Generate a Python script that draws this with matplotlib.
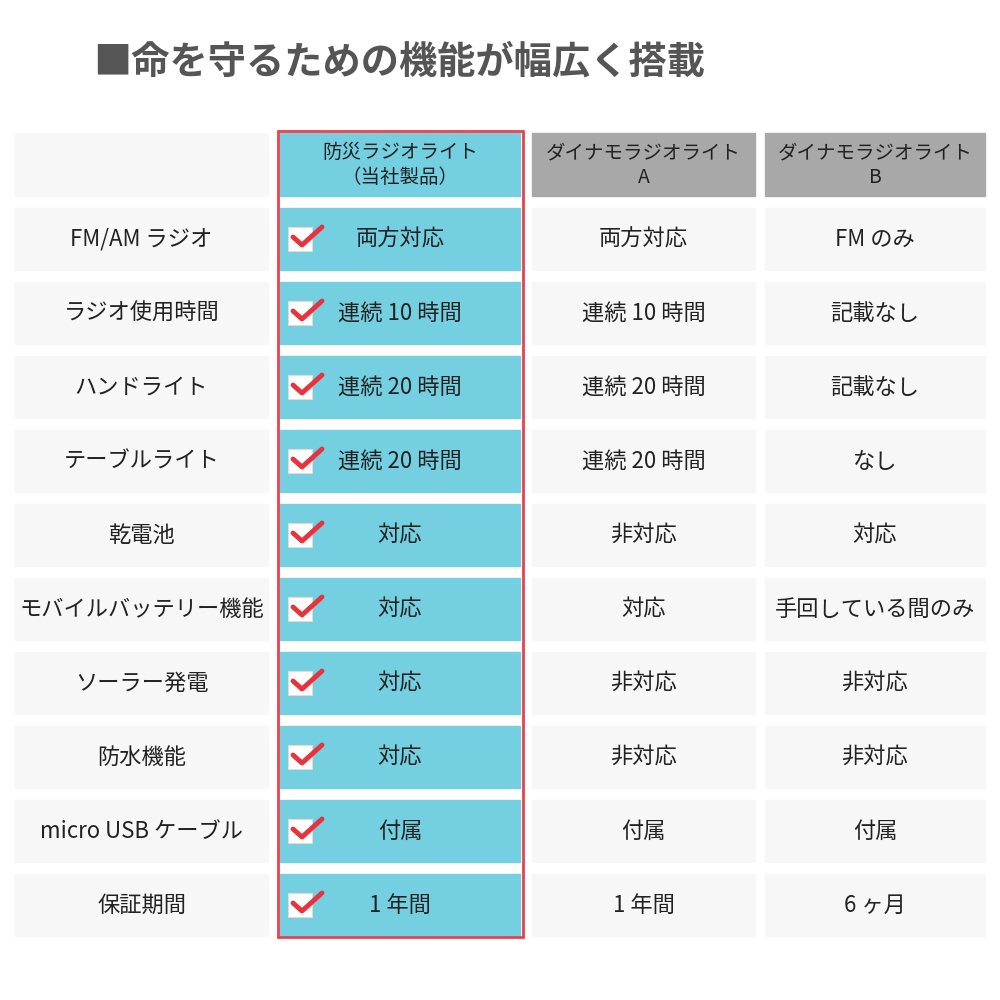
import matplotlib.pyplot as plt
from matplotlib.patches import Rectangle

plt.rcParams['font.family'] = ['Noto Sans CJK JP', 'DejaVu Sans']

title = "■命を守るための機能が幅広く搭載"
headers = ["防災ラジオライト\n（当社製品）", "ダイナモラジオライト\nA", "ダイナモラジオライト\nB"]
features = ["FM/AM ラジオ", "ラジオ使用時間", "ハンドライト", "テーブルライト", "乾電池",
            "モバイルバッテリー機能", "ソーラー発電", "防水機能", "micro USB ケーブル", "保証期間"]
ours = ["両方対応", "連続 10 時間", "連続 20 時間", "連続 20 時間", "対応",
        "対応", "対応", "対応", "付属", "1 年間"]
model_a = ["両方対応", "連続 10 時間", "連続 20 時間", "連続 20 時間", "非対応",
           "対応", "非対応", "非対応", "付属", "1 年間"]
model_b = ["FM のみ", "記載なし", "記載なし", "なし", "対応",
           "手回している間のみ", "非対応", "非対応", "付属", "6 ヶ月"]

cols = [(15, 268), (280, 520), (532, 755), (765, 985)]
row_top0 = 208
row_pitch = 74
row_h = 62
cyan = "#74cfe0"
light = "#f7f7f7"
gray = "#a8a8a8"
txt = "#222222"

fig = plt.figure(figsize=(10, 10), dpi=100)
ax = fig.add_axes([0, 0, 1, 1])
ax.set_xlim(0, 1000)
ax.set_ylim(1000, 0)
ax.axis("off")

ax.text(93, 62, title, fontsize=27.5, fontweight="bold", color="#555555", va="center", ha="left")

# header row
ax.add_patch(Rectangle((cols[0][0], 133), cols[0][1] - cols[0][0], 63, color=light))
for i, h in enumerate(headers):
    x0, x1 = cols[i + 1]
    ax.add_patch(Rectangle((x0, 133), x1 - x0, 63, color=cyan if i == 0 else gray))
    ax.text((x0 + x1) / 2, 165, h, fontsize=14, color=txt, ha="center", va="center", linespacing=1.2)

for r, feat in enumerate(features):
    y0 = row_top0 + r * row_pitch
    yc = y0 + row_h / 2
    vals = [feat, ours[r], model_a[r], model_b[r]]
    for c, v in enumerate(vals):
        x0, x1 = cols[c]
        ax.add_patch(Rectangle((x0, y0), x1 - x0, row_h, color=cyan if c == 1 else light))
        xc = (x0 + x1) / 2
        if c == 1:
            xc = 400
            # check box
            ax.add_patch(Rectangle((288, yc - 12), 24, 24, facecolor="white", edgecolor="#dddddd", lw=0.8))
            ax.plot([293, 302, 322], [yc - 2, yc + 6, yc - 12], color="#e8323c", lw=3.5,
                    solid_capstyle="round", solid_joinstyle="round")
        ax.text(xc, yc, v, fontsize=16, color=txt, ha="center", va="center")

ax.add_patch(Rectangle((278, 131), 245, 806, fill=False, edgecolor="#e8414f", lw=2))

fig.savefig("out.png", dpi=100, facecolor="white")
